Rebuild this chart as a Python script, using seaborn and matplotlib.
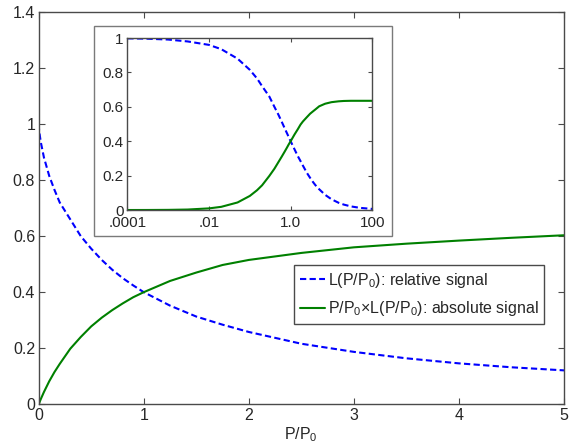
import numpy as np
import pandas as pd
import matplotlib
matplotlib.use("Agg")
import matplotlib.pyplot as plt
from matplotlib.patches import Rectangle
from matplotlib.ticker import FixedLocator, FixedFormatter, NullLocator
import seaborn as sns

# values (P/P0, relative signal L, absolute signal P/P0*L)
p_ratio = [0, 1e-4, 3e-4, 1e-3, 3e-3, 0.01, 0.02, 0.05, 0.1, 0.15, 0.2, 0.3, 0.4,
           0.5, 0.6, 0.7, 0.8, 0.9, 1.0, 1.25, 1.5, 1.75, 2.0, 2.5, 3.0, 3.5, 4.0,
           4.5, 5.0, 7, 10, 15, 20, 30, 50, 100]
rel_signal = [1.0, 0.998, 0.996, 0.991, 0.98, 0.96, 0.935, 0.88, 0.815, 0.765, 0.72,
              0.66, 0.60, 0.555, 0.515, 0.48, 0.45, 0.424, 0.40, 0.352, 0.313, 0.284,
              0.258, 0.216, 0.187, 0.164, 0.146, 0.132, 0.121, 0.0883, 0.0627, 0.0421,
              0.0317, 0.0211, 0.0127, 0.0064]
abs_signal = [0, 0.0001, 0.0003, 0.001, 0.0029, 0.0096, 0.0187, 0.044, 0.082, 0.115,
              0.144, 0.198, 0.240, 0.278, 0.309, 0.336, 0.36, 0.382, 0.40, 0.44, 0.47,
              0.497, 0.515, 0.54, 0.56, 0.573, 0.584, 0.594, 0.603, 0.618, 0.627, 0.632,
              0.634, 0.635, 0.635, 0.635]

main_xticks = [0, 1, 2, 3, 4, 5]
main_yticks = [0, 0.2, 0.4, 0.6, 0.8, 1.0, 1.2, 1.4]
main_ylabels = ["0", "0.2", "0.4", "0.6", "0.8", "1", "1.2", "1.4"]
inset_xticks = [1e-4, 1e-2, 1, 100]
inset_xlabels = [".0001", ".01", "1.0", "100"]
inset_yticks = [0, 0.2, 0.4, 0.6, 0.8, 1.0]
inset_ylabels = ["0", "0.2", "0.4", "0.6", "0.8", "1"]

legend_labels = [r"L(P/P$_\mathregular{0}$): relative signal",
                 r"P/P$_\mathregular{0}$×L(P/P$_\mathregular{0}$): absolute signal"]

df = pd.DataFrame({"p": p_ratio, "rel": rel_signal, "abs": abs_signal})

sns.set_style("ticks")
plt.rcParams["font.family"] = ["Liberation Sans", "DejaVu Sans"]
plt.rcParams["mathtext.fontset"] = "custom"
plt.rcParams["mathtext.rm"] = "Liberation Sans"

BLUE = (0, 0, 1)
GREEN = (0, 0.5, 0)
SPINE = "#4a4a4a"


def style_axes(ax, size, ticklen):
    for s in ax.spines.values():
        s.set_color(SPINE)
        s.set_linewidth(1.0)
    ax.tick_params(direction="in", top=True, right=True, length=ticklen,
                   width=0.8, color=SPINE, labelsize=size, pad=2.5)


def draw_curves(ax, data):
    sns.lineplot(data=data, x="p", y="rel", ax=ax, color=BLUE, lw=1.5, sort=False)
    sns.lineplot(data=data, x="p", y="abs", ax=ax, color=GREEN, lw=1.5, sort=False)
    ax.lines[0].set_dashes((3, 1.6))
    ax.set_xlabel("")
    ax.set_ylabel("")


fig = plt.figure(figsize=(5.71, 4.45), dpi=100)

# main axes
ax = fig.add_axes([0.0678, 0.0915, 0.9199, 0.8818])
draw_curves(ax, df)
ax.set_xlim(0, 5)
ax.set_ylim(0, 1.4)
ax.xaxis.set_major_locator(FixedLocator(main_xticks))
ax.yaxis.set_major_locator(FixedLocator(main_yticks))
ax.yaxis.set_major_formatter(FixedFormatter(main_ylabels))
style_axes(ax, 11.5, 4)
ax.set_xlabel(r"P/P$_\mathregular{0}$", fontsize=11.5, labelpad=2)
ax.legend(ax.lines[:2], legend_labels, loc="upper right",
          bbox_to_anchor=(0.962, 0.355), borderaxespad=0, fontsize=11.5,
          frameon=True, fancybox=False, framealpha=1, edgecolor=SPINE,
          handlelength=1.6, handletextpad=0.15, labelspacing=0.6,
          borderpad=0.35)

# white panel behind the inset
ax.add_patch(Rectangle((0.1646, 0.4697), 0.5214, 0.4719, transform=fig.transFigure,
                       facecolor="white", edgecolor="#7a7a7a", lw=1.0,
                       clip_on=False, zorder=10))

# inset (log x)
ins = fig.add_axes([0.223, 0.528, 0.429, 0.3866])
draw_curves(ins, df[df["p"] > 0])
ins.set_xscale("log")
ins.set_xlim(1e-4, 100)
ins.set_ylim(0, 1.0)
ins.xaxis.set_major_locator(FixedLocator(inset_xticks))
ins.xaxis.set_major_formatter(FixedFormatter(inset_xlabels))
ins.xaxis.set_minor_locator(NullLocator())
ins.yaxis.set_major_locator(FixedLocator(inset_yticks))
ins.yaxis.set_major_formatter(FixedFormatter(inset_ylabels))
style_axes(ins, 11, 3)
ins.tick_params(axis="x", pad=4.5)

fig.savefig("out.png", dpi=100)
